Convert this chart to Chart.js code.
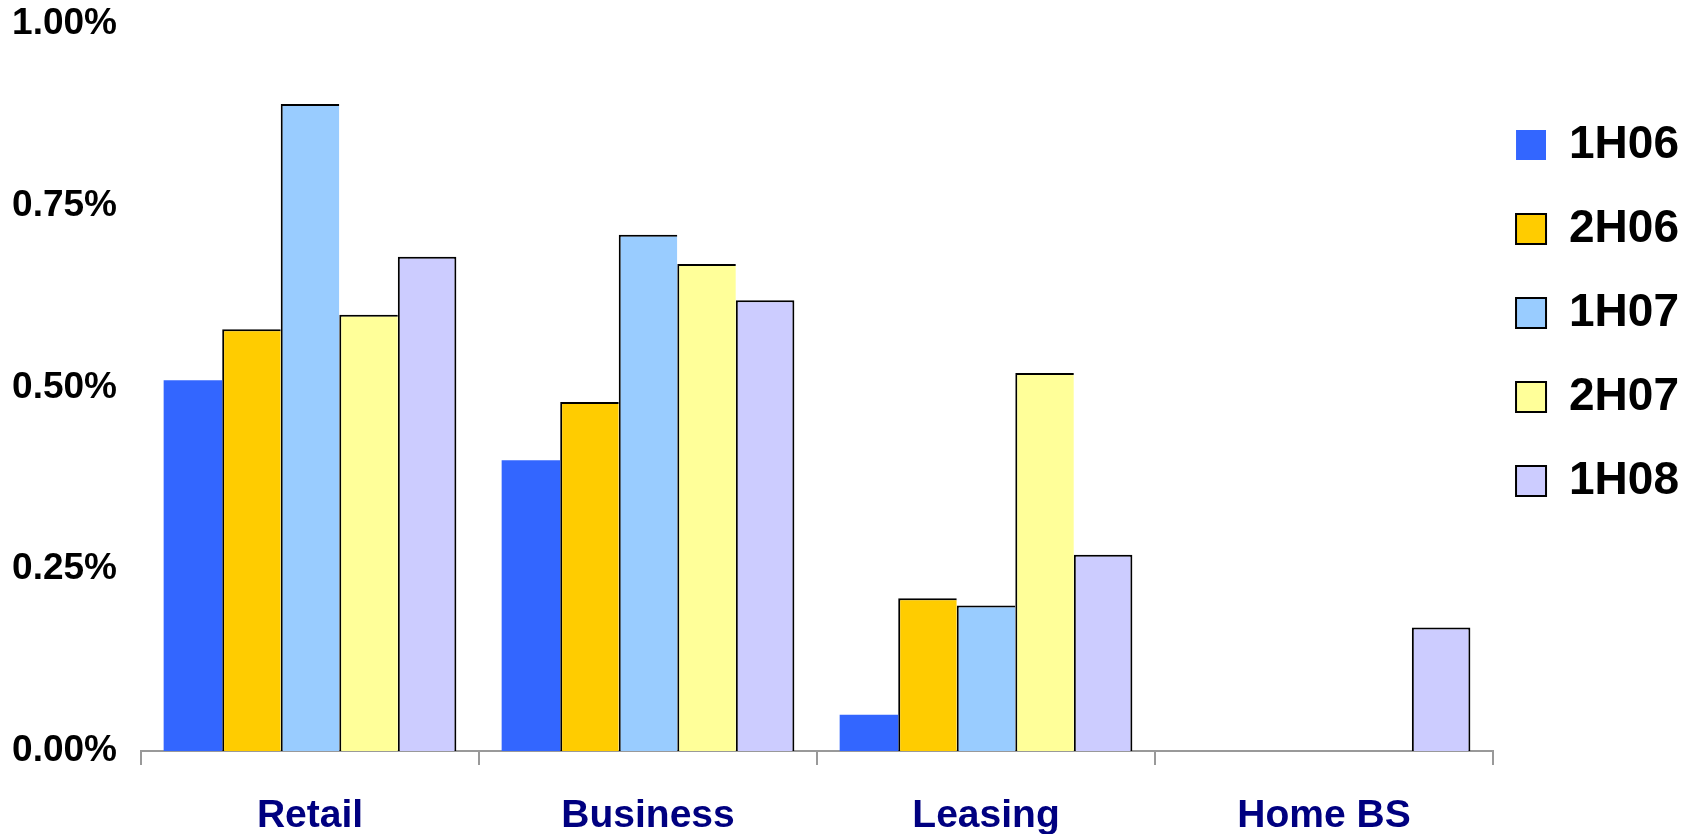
<!DOCTYPE html>
<html>
<head>
<meta charset="utf-8">
<script src="https://cdn.jsdelivr.net/npm/chart.js@4/dist/chart.umd.min.js"></script>
<style>
html,body{margin:0;padding:0;background:#fff;overflow:hidden}
canvas{display:block}
</style>
</head>
<body>
<canvas id="c" width="1695" height="834"></canvas>
<script>
// ---- data ----
const categories = ['Retail', 'Business', 'Leasing', 'Home BS'];
const seriesNames = ['1H06', '2H06', '1H07', '2H07', '1H08'];
const values1H06 = [0.51, 0.40, 0.05, null];
const values2H06 = [0.58, 0.48, 0.21, null];
const values1H07 = [0.89, 0.71, 0.20, null];
const values2H07 = [0.60, 0.67, 0.52, null];
const values1H08 = [0.68, 0.62, 0.27, 0.17];
const yTickValues = [0, 0.25, 0.5, 0.75, 1.0];

// ---- styles ----
const FONT = '"Liberation Sans", Arial, sans-serif';
const seriesValues = [values1H06, values2H06, values1H07, values2H07, values1H08];
const fills = ['#3366FF', '#FFCC00', '#99CCFF', '#FFFF99', '#CCCCFF'];
const lastIdx = seriesNames.length - 1;

const datasets = seriesNames.map((name, i) => ({
  label: name,
  data: seriesValues[i],
  backgroundColor: fills[i],
  borderColor: '#000000',
  borderWidth: i === 0 ? 0 : {top: 2, left: 2, right: i === lastIdx ? 2 : 0, bottom: 0},
  borderSkipped: 'start',
  categoryPercentage: 0.866,
  barPercentage: 1.0
}));

new Chart(document.getElementById('c'), {
  type: 'bar',
  data: { labels: categories, datasets },
  options: {
    responsive: false,
    devicePixelRatio: 1,
    animation: false,
    layout: { padding: { top: 24, right: 6, left: 0, bottom: 0 } },
    plugins: {
      tooltip: { enabled: false },
      legend: {
        position: 'right',
        align: 'start',
        title: { display: true, text: '', padding: { top: 63, bottom: 0 }, font: { size: 12, lineHeight: 1 } },
        labels: {
          boxWidth: 30,
          boxHeight: 30,
          padding: 23,
          color: '#000000',
          font: { family: FONT, size: 46, weight: 'bold', lineHeight: 61 / 46 },
          generateLabels(chart) {
            const items = Chart.defaults.plugins.legend.labels.generateLabels(chart);
            items.forEach((it, i) => {
              it.text = [it.text];
              it.lineWidth = i === 0 ? 0 : 2;
              it.strokeStyle = '#000000';
            });
            return items;
          }
        }
      }
    },
    scales: {
      x: {
        ticks: {
          color: '#000080',
          font: { family: FONT, size: 39, weight: 'bold' },
          padding: 28,
          maxRotation: 0,
          autoSkip: false
        },
        grid: {
          display: true,
          drawOnChartArea: false,
          drawTicks: true,
          tickLength: 14,
          color: '#999999',
          lineWidth: 2,
          offset: true
        },
        border: { display: true, color: '#999999', width: 2 },
        afterFit: s => { s.height = 83; }
      },
      y: {
        min: 0,
        max: 1,
        afterBuildTicks: s => { s.ticks = yTickValues.map(v => ({ value: v })); },
        ticks: {
          color: '#000000',
          font: { family: FONT, size: 37, weight: 'bold' },
          padding: 0,
          callback: v => Number(v).toFixed(2) + '%'
        },
        grid: { display: false, drawTicks: true, tickLength: 24 },
        border: { display: false },
        afterFit: s => { s.width = 141; }
      }
    }
  }
});
</script>
</body>
</html>
